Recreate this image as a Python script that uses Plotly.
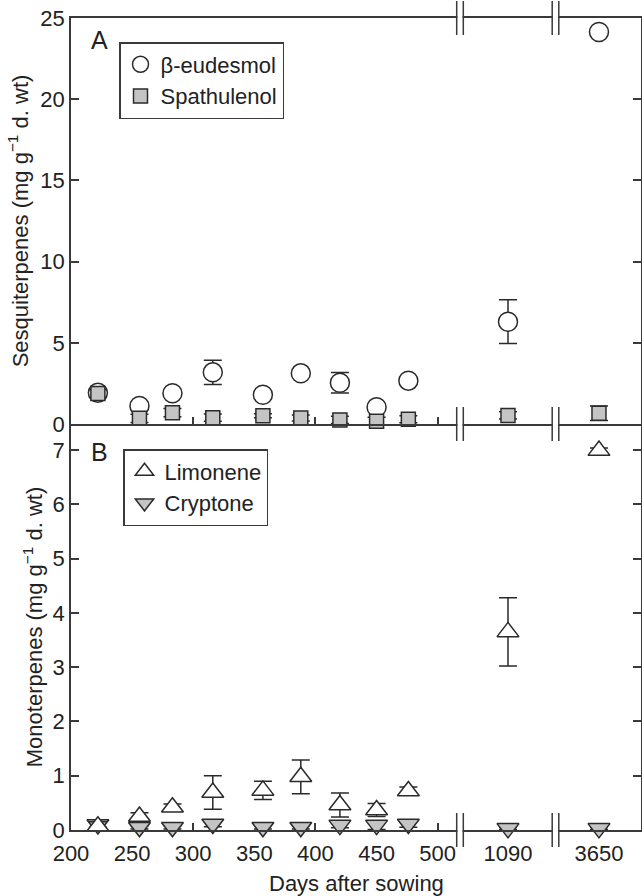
import plotly.graph_objects as go
from plotly.subplots import make_subplots

# ---------------- data ----------------
days = [222, 256, 283, 316, 357, 388, 420, 450, 476, 1090, 3650]

eudesmol = [1.93, 1.11, 1.89, 3.18, 1.80, 3.12, 2.54, 1.03, 2.67, 6.30, 24.14]
eudesmol_err = [0.20, 0.10, 0.10, 0.75, 0.10, 0.10, 0.63, 0.10, 0.15, 1.35, 0.10]

spathulenol = [1.88, 0.35, 0.70, 0.39, 0.51, 0.37, 0.25, 0.17, 0.29, 0.53, 0.66]
spathulenol_err = [0.25, 0.25, 0.25, 0.22, 0.12, 0.18, 0.22, 0.25, 0.22, 0.22, 0.45]

limonene = [0.07, 0.25, 0.42, 0.69, 0.73, 0.98, 0.46, 0.37, 0.72, 3.65, 6.99]
limonene_err = [0.08, 0.07, 0.06, 0.31, 0.17, 0.31, 0.22, 0.12, 0.07, 0.63, 0.05]

cryptone = [0.10, 0.05, 0.05, 0.11, 0.05, 0.05, 0.09, 0.09, 0.11, 0.03, 0.03]
cryptone_err = [0.05, 0.03, 0.03, 0.05, 0.03, 0.03, 0.05, 0.08, 0.06, 0.02, 0.02]

seg1_ticks = [200, 250, 300, 350, 400, 450, 500]
seg1_minor = [300, 400, 500]
seg_ranges = [[200, 518.25], [1050.7, 1128.9], [3614.4, 3684.4]]
seg_ticks = [seg1_ticks, [1090], [3650]]
col_w = [389, 95.5, 85.5]

yA_ticks = [0, 5, 10, 15, 20, 25]
yB_ticks = [0, 1, 2, 3, 4, 5, 6, 7]
yA_range = [0, 25]
yB_range = [0, 7.48]

# ---------------- style ----------------
FONT = "Liberation Sans, Arial, sans-serif"
AX = "#3a3a3a"
MK = "#2a2a2a"
GRAY = "#c4c4c4"

fig = make_subplots(rows=2, cols=3, column_widths=col_w,
                    horizontal_spacing=0, vertical_spacing=0)


def seg_idx(col):
    lo, hi = seg_ranges[col - 1]
    return [i for i, d in enumerate(days) if lo <= d <= hi]


def add_series(row, vals, errs, name, symbol, size, fill, legend, rank):
    for col in (1, 2, 3):
        idx = seg_idx(col)
        fig.add_trace(go.Scatter(
            x=[days[i] for i in idx], y=[vals[i] for i in idx],
            mode="markers", name=name, legend=legend, legendrank=rank,
            showlegend=(col == 1), legendgroup=name, cliponaxis=False,
            marker=dict(symbol=symbol, size=size, color=fill,
                        line=dict(color=MK, width=1.5)),
            error_y=dict(type="data", array=[errs[i] for i in idx],
                         color=MK, thickness=1.5, width=9),
        ), row=row, col=col)


add_series(1, eudesmol, eudesmol_err, "β-eudesmol", "circle", 19, "white", "legend", 1)
add_series(1, spathulenol, spathulenol_err, "Spathulenol", "square", 14, GRAY, "legend", 2)
add_series(2, cryptone, cryptone_err, "Cryptone", "triangle-down", 19, GRAY, "legend2", 2)
add_series(2, limonene, limonene_err, "Limonene", "triangle-up", 19, "white", "legend2", 1)

for row in (1, 2):
    yr = yA_range if row == 1 else yB_range
    yt = yA_ticks if row == 1 else yB_ticks
    for col in (1, 2, 3):
        xa = dict(range=seg_ranges[col - 1], showline=True, linecolor=AX,
                  linewidth=1.5, mirror=(row == 1), showgrid=False, zeroline=False,
                  ticks="", tickmode="array", tickvals=seg_ticks[col - 1],
                  showticklabels=(row == 2), automargin=False,
                  ticklabelstandoff=3,
                  tickfont=dict(family=FONT, size=22, color="#222"))
        if col == 1:
            xa["minor"] = dict(tickmode="array", tickvals=seg1_minor, ticks="inside",
                               ticklen=7, tickwidth=1.5, tickcolor=AX)
        fig.update_xaxes(row=row, col=col, **xa)

        ya = dict(range=yr, showgrid=False, zeroline=False, tickmode="array",
                  tickvals=yt, automargin=False,
                  tickfont=dict(family=FONT, size=22, color="#222"))
        if col == 1:
            ya.update(showline=True, linecolor=AX, linewidth=1.5, ticks="inside",
                      ticklen=8, tickwidth=1.5, tickcolor=AX, showticklabels=True)
        elif col == 2:
            ya.update(visible=False)
        else:
            ya.update(side="right", showline=True, linecolor=AX, linewidth=1.5,
                      ticks="inside", ticklen=8, tickwidth=1.5, tickcolor=AX,
                      showticklabels=False)
        fig.update_yaxes(row=row, col=col, **ya)

fig.update_yaxes(row=1, col=1, title=dict(
    text="Sesquiterpenes (mg g<sup>−1</sup> d. wt)",
    font=dict(family=FONT, size=22, color="#222"), standoff=6))
fig.update_yaxes(row=2, col=1, title=dict(
    text="Monoterpenes (mg g<sup>−1</sup> d. wt)",
    font=dict(family=FONT, size=22, color="#222"), standoff=4))

# ---------------- axis breaks ----------------
W = sum(col_w)
H_PLOT = 812.0
shapes = []
b_positions = [col_w[0] / W, (col_w[0] + col_w[1]) / W]
for b in b_positions:
    for yp in (0.0, 0.5, 1.0):
        g = 3.3 / W
        shapes.append(dict(type="rect", xref="paper", yref="paper",
                           x0=b - g + 0.75 / W, x1=b + g - 0.75 / W,
                           y0=yp - 3 / H_PLOT, y1=yp + 3 / H_PLOT,
                           fillcolor="white", line=dict(width=0), layer="above"))
        for s in (-1, 1):
            shapes.append(dict(type="line", xref="paper", yref="paper",
                               x0=b + s * g, x1=b + s * g,
                               y0=yp - 17 / H_PLOT, y1=yp + 17 / H_PLOT,
                               line=dict(color=AX, width=1.5), layer="above"))

fig.update_layout(
    width=642, height=896,
    margin=dict(l=71, r=1, t=18, b=66, autoexpand=False),
    paper_bgcolor="white", plot_bgcolor="white",
    font=dict(family=FONT, size=22, color="#222"),
    shapes=shapes,
    legend=dict(x=48 / W, y=(830 - 42) / H_PLOT, xanchor="left", yanchor="top",
                bordercolor=AX, borderwidth=1.5, bgcolor="white",
                font=dict(family=FONT, size=22, color="#222"),
                tracegroupgap=0),
    legend2=dict(x=52 / W, y=(830 - 449) / H_PLOT, xanchor="left", yanchor="top",
                 bordercolor=AX, borderwidth=1.5, bgcolor="white",
                 font=dict(family=FONT, size=22, color="#222"),
                 tracegroupgap=0),
    annotations=[
        dict(text="A", x=28 / W, y=(830 - 40) / H_PLOT, xref="paper", yref="paper",
             showarrow=False, xanchor="center", yanchor="middle",
             font=dict(family=FONT, size=25, color="#222")),
        dict(text="B", x=28 / W, y=(830 - 452) / H_PLOT, xref="paper", yref="paper",
             showarrow=False, xanchor="center", yanchor="middle",
             font=dict(family=FONT, size=25, color="#222")),
        dict(text="Days after sowing", x=0.5, y=-(883 - 830) / H_PLOT,
             xref="paper", yref="paper", showarrow=False,
             xanchor="center", yanchor="middle",
             font=dict(family=FONT, size=22, color="#222")),
    ],
)

fig.write_html(
    "out.html",
    config={"displayModeBar": False},
    post_script="document.body.style.margin='0';document.body.style.overflow='hidden';",
)
